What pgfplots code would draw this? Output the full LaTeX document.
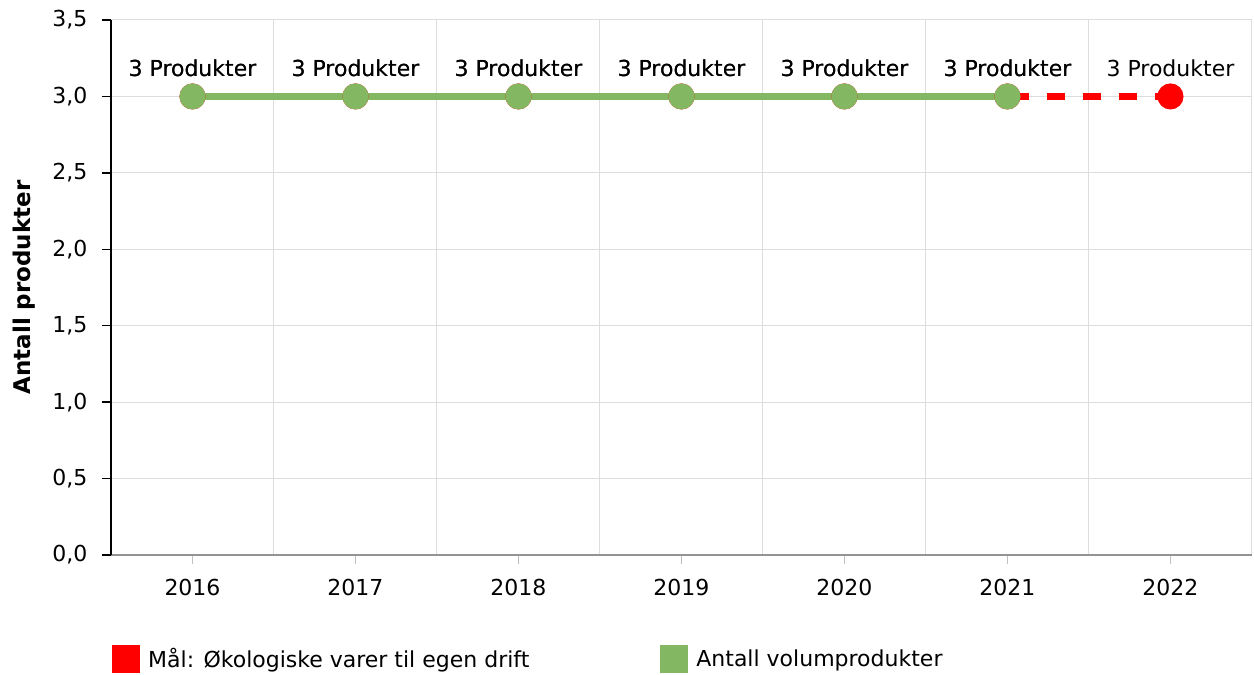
\documentclass[border=0pt]{standalone}
\usepackage{pgfplots}
\pgfplotsset{compat=1.18}
\usepackage{fontspec}
\setmainfont{DejaVu Sans}
\definecolor{amgreen}{HTML}{84B761}
\definecolor{gridc}{HTML}{DDDDDD}
\begin{document}
\begin{tikzpicture}
\useasboundingbox (-111pt,-120pt) rectangle (1143pt,555pt);
\begin{axis}[
  at={(0,0)}, anchor=south west,
  scale only axis, width=1141pt, height=535pt,
  xmin=-0.5, xmax=6.5, ymin=0, ymax=3.5,
  axis lines=left,
  x axis line style={-, draw=gray!85, line width=1.6pt},
  y axis line style={-, draw=black, line width=1.3pt},
  xtick={0,1,2,3,4,5,6},
  xticklabels={2016,2017,2018,2019,2020,2021,2022},
  ytick={0,0.5,...,3.5},
  minor xtick={-0.5,0.5,1.5,2.5,3.5,4.5,5.5,6.5},
  xminorgrids=true, ymajorgrids=true, xmajorgrids=false,
  minor tick length=0pt,
  major tick length=9pt,
  tick align=outside,
  xtick style={draw=gray!50, line width=1.3pt},
  ytick style={draw=black, line width=1.3pt},
  grid style={draw=gridc, line width=1pt},
  minor grid style={draw=gridc, line width=1pt},
  tick label style={font=\fontsize{22}{26}\selectfont, text=black},
  xticklabel style={yshift=-12pt},
  yticklabel style={xshift=-11pt},
  /pgf/number format/.cd, fixed, fixed zerofill, precision=1, use comma, assume math mode=true,
  /pgfplots/.cd,
  ylabel={Antall produkter},
  ylabel style={at={(axis description cs:-0.0763,0.5)}, anchor=center, font=\fontsize{23}{26}\selectfont\bfseries},
  legend columns=2,
  legend style={at={(0,0)}, anchor=west, xshift=1pt, yshift=-104pt, draw=none, fill=none,
    font=\fontsize{22}{26}\selectfont, inner xsep=0pt, nodes={inner xsep=0pt},
    /tikz/every odd column/.append style={column sep=8pt},
    /tikz/every even column/.append style={column sep=131pt}},
  legend cell align=left,
  nodes near coords={3 Produkter},
  every node near coord/.append style={font=\fontsize{22}{26}\selectfont, text=black, anchor=center, yshift=28pt},
]
\addplot[red, line width=7pt, dash pattern=on 18pt off 18pt, dash phase=10pt, mark=*, mark size=9.5pt,
  mark options={solid, fill=red, draw=none},
  legend image code/.code={\path[fill=red, draw=none, solid] (0pt,-14pt) rectangle (28pt,14pt);}]
  coordinates {(0,3) (1,3) (2,3) (3,3) (4,3) (5,3) (6,3)};
\addlegendentry{Mål: Økologiske varer til egen drift}
\addplot[amgreen, line width=7pt, mark=*, mark size=9.5pt,
  mark options={solid, fill=amgreen, draw=none},
  legend image code/.code={\path[fill=amgreen, draw=none, solid] (0pt,-14pt) rectangle (28pt,14pt);}]
  coordinates {(0,3) (1,3) (2,3) (3,3) (4,3) (5,3)};
\addlegendentry{Antall volumprodukter}
\end{axis}
\end{tikzpicture}
\end{document}
